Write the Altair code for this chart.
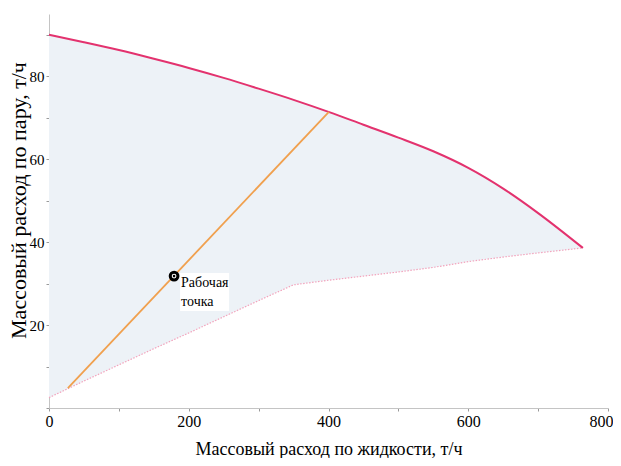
import altair as alt
import pandas as pd

# Envelope of the operating region
x_pts = [0, 50, 100, 150, 200, 250, 300, 350, 400, 450, 500, 550, 600, 650, 700, 764]
upper_pts = [90, 88.2, 86.3, 84.2, 82, 79.6, 77, 74.3, 71.4, 68.3, 65.2, 61.9, 57.9, 52.9, 47.0, 38.6]
lower_pts = [2.5, 6.5, 10.4, 14.3, 18.1, 22.0, 25.9, 29.7, 30.8, 31.8, 32.8, 33.9, 35.3, 36.4, 37.4, 38.6]

# Operating line
op_line_x = [27, 400.6]
op_line_y = [4.8, 71.4]

# Operating point
pt_x = [179]
pt_y = [31.8]
pt_label = [["Рабочая", "точка"]]

x_ticks = list(range(0, 801, 50))
y_ticks = list(range(0, 96, 5))

env = pd.DataFrame({"x": x_pts, "up": upper_pts, "lo": lower_pts})
op = pd.DataFrame({"x": op_line_x, "y": op_line_y})
pt = pd.DataFrame({"x": pt_x, "y": pt_y, "t": pt_label})

FONT = "Liberation Serif"

xs = alt.Scale(domain=[0, 800], nice=False, zero=False)
ys = alt.Scale(domain=[0, 95], nice=False, zero=False)

xaxis = alt.Axis(
    values=x_ticks,
    labelExpr="datum.value % 200 === 0 ? datum.label : ''",
    title="Массовый расход по жидкости, т/ч",
    grid=False,
    labelFlush=False,
    labelAlign={"condition": {"test": "datum.value == 800", "value": "right"}, "value": "center"},
    labelOffset={"condition": {"test": "datum.value == 800", "value": 5}, "value": 0},
)
yaxis = alt.Axis(
    values=y_ticks,
    labelExpr="(datum.value % 20 === 0 && datum.value > 0) ? datum.label : ''",
    title="Массовый расход по пару, т/ч",
    grid=False,
    labelFlush=False,
    labelFontSize=15,
    titleX=-24,
    titleY=186,
    titleAlign="center",
    titleBaseline="alphabetic",
    titleAngle=270,
)

area = alt.Chart(env).mark_area(color="#edf2f7", opacity=1).encode(
    x=alt.X("x:Q", scale=xs, axis=xaxis),
    y=alt.Y("up:Q", scale=ys, axis=yaxis),
    y2="lo:Q",
)
upper = alt.Chart(env).mark_line(color="#e3326e", strokeWidth=2, interpolate="monotone").encode(
    x=alt.X("x:Q", scale=xs), y=alt.Y("up:Q", scale=ys)
)
lower = alt.Chart(env).mark_line(color="#f2a3bc", strokeWidth=1.2, strokeDash=[1.5, 1.5]).encode(
    x=alt.X("x:Q", scale=xs), y=alt.Y("lo:Q", scale=ys)
)
opline = alt.Chart(op).mark_line(color="#f0a04e", strokeWidth=1.8).encode(
    x=alt.X("x:Q", scale=xs), y=alt.Y("y:Q", scale=ys)
)
box = alt.Chart(pt).mark_rect(
    color="white", xOffset=6, x2Offset=55, yOffset=-3, y2Offset=35
).encode(
    x=alt.X("x:Q", scale=xs), x2="x:Q", y=alt.Y("y:Q", scale=ys), y2="y:Q"
)
ring = alt.Chart(pt).mark_point(
    shape="circle", size=60, filled=False, fill="white", stroke="black", strokeWidth=3, opacity=1
).encode(x=alt.X("x:Q", scale=xs), y=alt.Y("y:Q", scale=ys))
dot = alt.Chart(pt).mark_point(
    shape="circle", size=7, filled=True, color="black", opacity=1
).encode(x=alt.X("x:Q", scale=xs), y=alt.Y("y:Q", scale=ys))
label = alt.Chart(pt).mark_text(
    align="left", baseline="alphabetic", dx=7, dy=11, font=FONT, fontSize=14,
    lineHeight=19, color="black"
).encode(x=alt.X("x:Q", scale=xs), y=alt.Y("y:Q", scale=ys), text="t")

chart = alt.layer(area, lower, upper, opline, box, label, ring, dot).properties(
    width=559, height=394,
    autosize=alt.AutoSizeParams(type="none"),
    padding={"left": 41, "top": 6, "right": 5, "bottom": 50},
).configure_view(stroke=None).configure_axis(
    domainColor="#c4c4c4",
    tickColor="#9a9a9a",
    tickSize=3,
    labelFont=FONT,
    labelFontSize=16,
    labelColor="black",
    labelPadding=2,
    titleFont=FONT,
    titleFontWeight="normal",
    titleColor="black",
).configure_axisX(
    titleFontSize=18, titlePadding=11
).configure_axisY(
    titleFontSize=22
)

chart.save("out.html", embed_options={"renderer": "svg", "actions": False})
